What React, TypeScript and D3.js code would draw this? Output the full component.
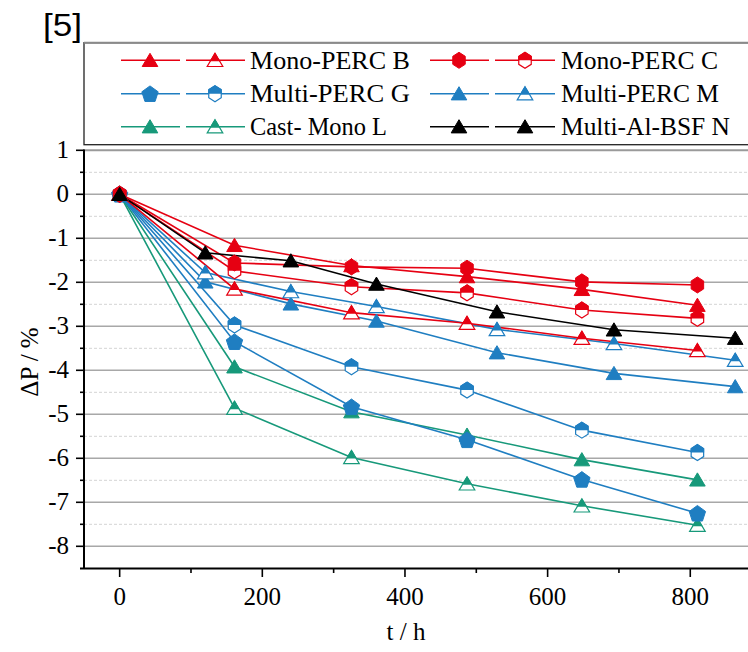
import React from "react";
import * as d3 from "d3";

// ---- Data ----
const tA = [0, 161, 325, 487, 648, 810];
const tM = [0, 120, 240, 360, 529, 693, 863];

const monoB_filled = [0, -1.16, -1.62, -1.87, -2.16, -2.52];
const monoB_open = [0, -2.15, -2.69, -2.93, -3.27, -3.55];
const monoC_filled = [0, -1.56, -1.65, -1.68, -1.99, -2.06];
const monoC_open = [0, -1.74, -2.1, -2.24, -2.63, -2.82];
const multiG_filled = [0, -3.35, -4.83, -5.58, -6.48, -7.25];
const multiG_open = [0, -2.97, -3.92, -4.45, -5.36, -5.87];
const multiM_filled = [0, -1.99, -2.49, -2.88, -3.6, -4.07, -4.37];
const multiM_open = [0, -1.78, -2.21, -2.55, -3.07, -3.39, -3.77];
const castL_filled = [0, -3.92, -4.94, -5.47, -6.03, -6.49];
const castL_open = [0, -4.86, -5.98, -6.58, -7.08, -7.52];
const alBsfN = [0, -1.33, -1.51, -2.04, -2.67, -3.08, -3.27];

const xTicks = [0, 200, 400, 600, 800];
const xMinorTicks = [100, 300, 500, 700];
const yTicks = [1, 0, -1, -2, -3, -4, -5, -6, -7, -8];
const yHalfTicks = [0.5, -0.5, -1.5, -2.5, -3.5, -4.5, -5.5, -6.5, -7.5];

const RED = "#E60012";
const BLUE = "#1F7EC1";
const GREEN = "#17997A";
const BLACK = "#000000";

type Shape = "tri" | "hex" | "pent";
interface Series { t: number[]; v: number[]; color: string; shape: Shape; half: boolean; }

const series: Series[] = [
  { t: tA, v: castL_open, color: GREEN, shape: "tri", half: true },
  { t: tA, v: castL_filled, color: GREEN, shape: "tri", half: false },
  { t: tA, v: multiG_filled, color: BLUE, shape: "pent", half: false },
  { t: tA, v: multiG_open, color: BLUE, shape: "hex", half: true },
  { t: tM, v: multiM_filled, color: BLUE, shape: "tri", half: false },
  { t: tM, v: multiM_open, color: BLUE, shape: "tri", half: true },
  { t: tA, v: monoB_open, color: RED, shape: "tri", half: true },
  { t: tA, v: monoC_open, color: RED, shape: "hex", half: true },
  { t: tA, v: monoB_filled, color: RED, shape: "tri", half: false },
  { t: tA, v: monoC_filled, color: RED, shape: "hex", half: false },
  { t: tM, v: alBsfN, color: BLACK, shape: "tri", half: false },
];

interface LegendItem { label: string; color: string; s1: Shape; s2: Shape; h2: boolean; }
const legendItems: LegendItem[] = [
  { label: "Mono-PERC B", color: RED, s1: "tri", s2: "tri", h2: true },
  { label: "Mono-PERC C", color: RED, s1: "hex", s2: "hex", h2: true },
  { label: "Multi-PERC G", color: BLUE, s1: "pent", s2: "hex", h2: true },
  { label: "Multi-PERC M", color: BLUE, s1: "tri", s2: "tri", h2: true },
  { label: "Cast- Mono L", color: GREEN, s1: "tri", s2: "tri", h2: true },
  { label: "Multi-Al-BSF N", color: BLACK, s1: "tri", s2: "tri", h2: false },
];
const legendWidths = [160, 157, 160, 158, 137, 169];

// ---- Shapes ----
function polyPath(pts: [number, number][]) {
  return "M" + pts.map((p) => p[0].toFixed(2) + "," + p[1].toFixed(2)).join("L") + "Z";
}
function shapePath(s: Shape): string {
  if (s === "tri") return polyPath([[0, -7], [7.8, 6.2], [-7.8, 6.2]]);
  if (s === "hex") {
    const r = 8;
    const pts: [number, number][] = [];
    for (let i = 0; i < 6; i++) {
      const a = (-90 + i * 60) * Math.PI / 180;
      pts.push([r * 0.9 * Math.cos(a), r * Math.sin(a)]);
    }
    return polyPath(pts);
  }
  const r = 8.6;
  const pts: [number, number][] = [];
  for (let i = 0; i < 5; i++) {
    const a = (-90 + i * 72) * Math.PI / 180;
    pts.push([r * Math.cos(a), r * Math.sin(a) + 0.8]);
  }
  return polyPath(pts);
}

function Marker({ x, y, shape, color, half }: { x: number; y: number; shape: Shape; color: string; half: boolean }) {
  const d = shapePath(shape);
  const isTri = shape === "tri";
  if (!half) {
    return <path d={d} transform={`translate(${x},${y})`} fill={color} stroke={color} strokeWidth={1} />;
  }
  return (
    <g transform={`translate(${x},${y})`}>
      <path d={d} fill="#ffffff" stroke={color} strokeWidth={1.2} />
      <path d={d} fill={color} stroke={color} strokeWidth={1} clipPath={`url(#${isTri ? "clipTri" : "clipTop"})`} />
    </g>
  );
}

export default function App() {
  const W = 748, H = 652;
  const x = d3.scaleLinear().domain([-50, 900]).range([84, 761.6]);
  const y = d3.scaleLinear().domain([-8.5, 1]).range([568.3, 150.3]);
  const line = d3.line<[number, number]>().x((d) => x(d[0])).y((d) => y(d[1]));
  const serif = "'Liberation Serif', 'Times New Roman', serif";

  const rowsY = [60.3, 93.7, 126.7];
  const cols = [
    { l1: [121, 180], m1: 150, l2: [186, 245], m2: 215, tx: 250 },
    { l1: [430, 489], m1: 459, l2: [495, 555], m2: 525, tx: 561 },
  ];

  return (
    <svg width={W} height={H} style={{ position: "absolute", left: 0, top: 0, background: "#fff" }}>
      <defs>
        <clipPath id="clipTop" clipPathUnits="userSpaceOnUse">
          <rect x={-20} y={-20} width={40} height={20} />
        </clipPath>
        <clipPath id="clipTri" clipPathUnits="userSpaceOnUse">
          <rect x={-20} y={-20} width={40} height={21} />
        </clipPath>
      </defs>
      <rect x={0} y={0} width={W} height={H} fill="#fff" />

      {/* [5] */}
      <text x={43} y={36} fontFamily="'Liberation Sans', Arial, sans-serif" fontSize={31} textLength={39} lengthAdjust="spacingAndGlyphs" fill="#000">[5]</text>

      {/* Legend box */}
      <rect x={84} y={42.7} width={700} height={102} fill="#fff" stroke="#222" strokeWidth={1.3} />
      <line x1={84} x2={W} y1={42.7} y2={42.7} stroke="#8a8a8a" strokeWidth={2} />
      {legendItems.map((it, i) => {
        const c = cols[i % 2];
        const ry = rowsY[Math.floor(i / 2)];
        return (
          <g key={it.label}>
            <line x1={c.l1[0]} x2={c.l1[1]} y1={ry} y2={ry} stroke={it.color} strokeWidth={1.6} />
            <line x1={c.l2[0]} x2={c.l2[1]} y1={ry} y2={ry} stroke={it.color} strokeWidth={1.6} />
            <Marker x={c.m1} y={ry} shape={it.s1} color={it.color} half={false} />
            <Marker x={c.m2} y={ry} shape={it.s2} color={it.color} half={it.h2} />
            <text x={c.tx} y={ry + 8.5} fontFamily={serif} fontSize={25} fill="#000" textLength={legendWidths[i]} lengthAdjust="spacingAndGlyphs">{it.label}</text>
          </g>
        );
      })}

      {/* Grid */}
      {yHalfTicks.map((v) => (
        <line key={"h" + v} x1={84} x2={W} y1={y(v)} y2={y(v)} stroke="#d4d4d4" strokeWidth={1} strokeDasharray="3,2" />
      ))}
      {yTicks.map((v) => (
        <line key={"g" + v} x1={84} x2={W} y1={y(v)} y2={y(v)} stroke={v === 1 ? "#9a9a9a" : "#a8a8a8"} strokeWidth={v === 1 ? 2 : 1.5} />
      ))}

      {/* Series lines */}
      {series.map((s, i) => (
        <path key={"l" + i} d={line(s.t.map((t, j) => [t, s.v[j]] as [number, number])) || ""} fill="none" stroke={s.color} strokeWidth={1.6} />
      ))}
      {/* Markers */}
      {series.map((s, i) => (
        <g key={"m" + i}>
          {s.t.map((t, j) => (
            <Marker key={j} x={x(t)} y={y(s.v[j])} shape={s.shape} color={s.color} half={s.half} />
          ))}
        </g>
      ))}

      {/* Axes */}
      <line x1={84} x2={84} y1={149.5} y2={569} stroke="#000" strokeWidth={2} />
      <line x1={80} x2={W} y1={568.5} y2={568.5} stroke="#000" strokeWidth={2} />
      {yTicks.map((v) => (
        <g key={"yt" + v}>
          <line x1={76} x2={84} y1={y(v)} y2={y(v)} stroke="#000" strokeWidth={1.6} />
          <text x={69} y={y(v) + 8} textAnchor="end" fontFamily={serif} fontSize={25} fill="#000">{v}</text>
        </g>
      ))}
      {yHalfTicks.map((v) => (
        <line key={"ym" + v} x1={80} x2={84} y1={y(v)} y2={y(v)} stroke="#000" strokeWidth={1.6} />
      ))}
      {xTicks.map((v) => (
        <g key={"xt" + v}>
          <line x1={x(v)} x2={x(v)} y1={568.5} y2={577} stroke="#000" strokeWidth={1.6} />
          <text x={x(v)} y={604.5} textAnchor="middle" fontFamily={serif} fontSize={25} fill="#000">{v}</text>
        </g>
      ))}
      {xMinorTicks.map((v) => (
        <line key={"xm" + v} x1={x(v)} x2={x(v)} y1={568.5} y2={573} stroke="#000" strokeWidth={1.6} />
      ))}

      {/* Axis titles */}
      <text x={406} y={640} textAnchor="middle" fontFamily={serif} fontSize={25} fill="#000">t / h</text>
      <text transform="translate(38,362) rotate(-90)" textAnchor="middle" fontFamily={serif} fontSize={25} fill="#000">ΔP / %</text>
    </svg>
  );
}
